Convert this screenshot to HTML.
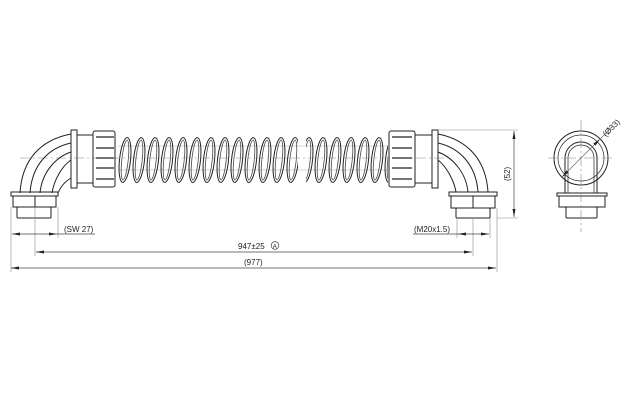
<!DOCTYPE html>
<html><head><style>
html,body{margin:0;padding:0;background:#fff;}
svg{display:block}
text{font-family:"Liberation Sans",sans-serif;fill:#222}
</style></head><body>
<svg width="633" height="400" viewBox="0 0 633 400" xmlns="http://www.w3.org/2000/svg">
<defs>
<pattern id="coil" x="118" y="0" width="14" height="400" patternUnits="userSpaceOnUse">
<ellipse cx="7" cy="160" rx="5.5" ry="22.5" fill="none" stroke="#222" stroke-width="1" transform="rotate(6 7 160)"/>
<ellipse cx="7" cy="160" rx="3.2" ry="20" fill="none" stroke="#444" stroke-width="0.8" transform="rotate(6 7 160)"/>
</pattern>
<marker id="ar" markerWidth="8" markerHeight="6" refX="8" refY="3" orient="auto" markerUnits="userSpaceOnUse"><path d="M0,1.5 L8,3 L0,4.5z" fill="#222"/></marker>
<marker id="al" markerWidth="8" markerHeight="6" refX="0" refY="3" orient="auto" markerUnits="userSpaceOnUse"><path d="M8,1.5 L0,3 L8,4.5z" fill="#222"/></marker>
</defs>
<g fill="none" stroke="#222" stroke-width="1">
<line x1="118" y1="146" x2="388" y2="146" stroke="#aaa" stroke-width="0.6"/>
<line x1="118" y1="170" x2="388" y2="170" stroke="#aaa" stroke-width="0.6"/>
<rect x="118" y="135" width="180" height="50" fill="url(#coil)" stroke="none"/>
<rect x="306" y="135" width="82" height="50" fill="url(#coil)" stroke="none"/>
<line x1="20" y1="158" x2="450" y2="158" stroke="#888" stroke-width="0.6" stroke-dasharray="10,3,2,3"/>
<rect x="71" y="130" width="6" height="58"/>
<rect x="77" y="135" width="16" height="48"/>
<rect x="93" y="131" width="22" height="56" rx="2"/>
<g stroke-width="1.2">
<line x1="96" y1="137" x2="114" y2="137"/><line x1="96" y1="148" x2="114" y2="148"/><line x1="96" y1="158" x2="114" y2="158"/><line x1="96" y1="168" x2="114" y2="168"/><line x1="96" y1="179" x2="114" y2="179"/>
</g>
<path d="M71,134 C40,140 22,160 20,193"/>
<path d="M71,143 C48,148 32,165 30,193"/>
<path d="M71,152 C56,157 42,172 40,193"/>
<path d="M71,160 C62,166 54,180 52,193"/>
<path d="M71,178 C64,182 60,188 58,193"/>
<rect x="11" y="192" width="47" height="4"/>
<rect x="13" y="196" width="43" height="11"/>
<line x1="35" y1="196" x2="35" y2="207"/>
<rect x="17" y="207" width="34" height="11" rx="1"/>
<rect x="432" y="130" width="6" height="58"/>
<rect x="415" y="135" width="17" height="48"/>
<rect x="389" y="131" width="26" height="56" rx="2"/>
<g stroke-width="1.2">
<line x1="392" y1="137" x2="412" y2="137"/><line x1="392" y1="148" x2="412" y2="148"/><line x1="392" y1="158" x2="412" y2="158"/><line x1="392" y1="168" x2="412" y2="168"/><line x1="392" y1="179" x2="412" y2="179"/>
</g>
<path d="M438,134 C468,140 486,160 488,192"/>
<path d="M438,143 C460,148 476,165 478,192"/>
<path d="M438,152 C452,157 466,172 468,192"/>
<path d="M438,160 C446,166 454,180 456,192"/>
<rect x="449" y="192" width="48" height="4"/>
<rect x="451" y="196" width="44" height="12"/>
<line x1="473" y1="196" x2="473" y2="208"/>
<rect x="456" y="208" width="34" height="10" rx="1"/>
<circle cx="581" cy="158" r="27"/>
<circle cx="581" cy="158" r="23" stroke-width="0.7"/>
<path d="M565,193 L565,158 A16,16 0 0 1 597,158 L597,193"/>
<path d="M568,193 L568,158 A13,13 0 0 1 594,158 L594,193" stroke-width="0.7"/>
<rect x="557" y="193" width="50" height="3"/>
<rect x="559" y="196" width="46" height="11"/>
<rect x="566" y="207" width="31" height="11" rx="1"/>
<line x1="581" y1="120" x2="581" y2="232" stroke="#888" stroke-width="0.6" stroke-dasharray="10,3,2,3"/>
<line x1="548" y1="158" x2="615" y2="158" stroke="#888" stroke-width="0.6" stroke-dasharray="10,3,2,3"/>
<line x1="562" y1="177" x2="600" y2="139" stroke="#666" stroke-width="0.6" marker-end="url(#ar)" marker-start="url(#al)"/>
<line x1="600" y1="139" x2="612" y2="127" stroke="#666" stroke-width="0.6"/>
<g stroke="#888" stroke-width="0.6">
<line x1="11" y1="207" x2="11" y2="272"/>
<line x1="58" y1="207" x2="58" y2="238"/>
<line x1="35" y1="207" x2="35" y2="256"/>
<line x1="457" y1="218" x2="457" y2="238"/>
<line x1="490" y1="218" x2="490" y2="238"/>
<line x1="473" y1="218" x2="473" y2="256"/>
<line x1="497" y1="208" x2="497" y2="272"/>
<line x1="438" y1="130" x2="518" y2="130"/>
<line x1="497" y1="218" x2="518" y2="218"/>
</g>
<g stroke="#444" stroke-width="0.7">
<line x1="12" y1="234" x2="57" y2="234" marker-start="url(#al)" marker-end="url(#ar)"/>
<line x1="57" y1="234" x2="95" y2="234"/>
<line x1="458" y1="234" x2="489" y2="234" marker-start="url(#al)" marker-end="url(#ar)"/>
<line x1="413" y1="234" x2="458" y2="234"/>
<line x1="36" y1="252" x2="472" y2="252" marker-start="url(#al)" marker-end="url(#ar)"/>
<line x1="11" y1="268" x2="496" y2="268" marker-start="url(#al)" marker-end="url(#ar)"/>
<line x1="514" y1="131" x2="514" y2="217" marker-start="url(#al)" marker-end="url(#ar)"/>
</g>
</g>
<text x="64" y="232" font-size="8">(SW 27)</text>
<text x="414" y="232" font-size="8">(M20x1.5)</text>
<text x="238" y="249" font-size="8">947±25</text>
<circle cx="275" cy="245.5" r="3.8" fill="none" stroke="#222" stroke-width="0.6"/>
<text x="272.8" y="248.3" font-size="6">A</text>
<text x="244" y="265" font-size="8">(977)</text>
<text x="0" y="0" font-size="8" transform="translate(510,181) rotate(-90)">(52)</text>
<text x="0" y="0" font-size="8" transform="translate(606,137) rotate(-45)">(Ø33)</text>
</svg>
</body></html>
